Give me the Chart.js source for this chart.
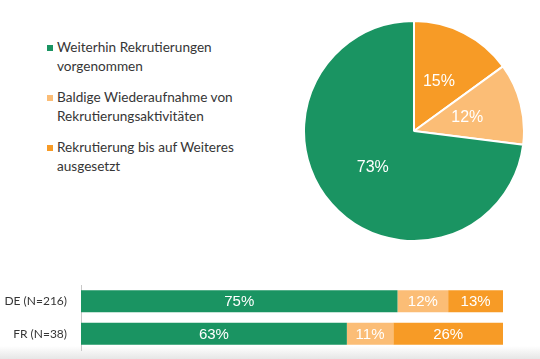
<!DOCTYPE html>
<html>
<head>
<meta charset="utf-8">
<script src="https://cdn.jsdelivr.net/npm/chart.js@4/dist/chart.umd.min.js"></script>
<style>
  html, body { margin: 0; padding: 0; }
  body {
    width: 540px; height: 359px; overflow: hidden; position: relative;
    background: linear-gradient(to bottom, #ffffff 0px, #ffffff 346px, #e6e6e6 359px);
    font-family: Lato, "Open Sans", sans-serif;
  }
  #pie { position: absolute; left: 303px; top: 20px; }
  #bar { position: absolute; left: 0px; top: 280px; }
  #legend { position: absolute; left: 46px; top: 38px; color: #363636; font-size: 13.6px; line-height: 19px; }
  .item { position: relative; padding-left: 11px; margin-bottom: 12px; }
  .sw { position: absolute; left: 1px; top: 7px; width: 6px; height: 6px; }
</style>
</head>
<body>
<div id="legend"></div>
<canvas id="pie" width="222" height="222"></canvas>
<canvas id="bar" width="540" height="75"></canvas>
<script>
// ---- data ----
const seriesNames = [
  ['Weiterhin Rekrutierungen', 'vorgenommen'],
  ['Baldige Wiederaufnahme von', 'Rekrutierungsaktivitäten'],
  ['Rekrutierung bis auf Weiteres', 'ausgesetzt']
];
const seriesColors = ['#1a9462', '#fbbd76', '#f79b26'];
const pieValues = [73, 12, 15];
const barCategories = ['DE (N=216)', 'FR (N=38)'];
const barContinued = [75, 63];
const barResume = [12, 11];
const barSuspended = [13, 26];

// ---- legend (HTML text) ----
const legendEl = document.getElementById('legend');
seriesNames.forEach((lines, i) => {
  const d = document.createElement('div');
  d.className = 'item';
  const sw = document.createElement('span');
  sw.className = 'sw';
  sw.style.background = seriesColors[i];
  d.appendChild(sw);
  lines.forEach((l, j) => {
    if (j) d.appendChild(document.createElement('br'));
    d.appendChild(document.createTextNode(l));
  });
  legendEl.appendChild(d);
});

// ---- label plugins ----
const pieLabelPlugin = {
  id: 'pieLabels',
  afterDatasetsDraw(chart) {
    const ctx = chart.ctx;
    const meta = chart.getDatasetMeta(0);
    ctx.save();
    ctx.fillStyle = '#ffffff';
    ctx.font = '16px "Liberation Sans", Arial, sans-serif';
    ctx.textAlign = 'center';
    ctx.textBaseline = 'middle';
    meta.data.forEach((arc, i) => {
      const p = arc.tooltipPosition();
      ctx.fillText(chart.data.datasets[0].data[i] + '%', p.x, p.y);
    });
    ctx.restore();
  }
};
const barLabelPlugin = {
  id: 'barLabels',
  afterDatasetsDraw(chart) {
    const ctx = chart.ctx;
    ctx.save();
    ctx.fillStyle = '#ffffff';
    ctx.font = '15px "Liberation Sans", Arial, sans-serif';
    ctx.textAlign = 'center';
    ctx.textBaseline = 'middle';
    chart.data.datasets.forEach((ds, di) => {
      chart.getDatasetMeta(di).data.forEach((bar, i) => {
        const p = bar.getProps(['x', 'y', 'base'], true);
        ctx.fillText(ds.data[i] + '%', (p.x + p.base) / 2, p.y + 1);
      });
    });
    ctx.restore();
  }
};

// ---- pie (drawn clockwise from top: suspended, resume, continued) ----
const order = [2, 1, 0];
new Chart(document.getElementById('pie'), {
  type: 'pie',
  data: {
    labels: order.map(i => seriesNames[i].join(' ')),
    datasets: [{
      data: order.map(i => pieValues[i]),
      backgroundColor: order.map(i => seriesColors[i]),
      borderColor: '#ffffff',
      borderWidth: 2
    }]
  },
  options: {
    responsive: false, animation: false,
    layout: { padding: 0 },
    plugins: { legend: { display: false }, tooltip: { enabled: false } }
  },
  plugins: [pieLabelPlugin]
});

// ---- stacked horizontal bars ----
new Chart(document.getElementById('bar'), {
  type: 'bar',
  data: {
    labels: barCategories,
    datasets: [
      { label: seriesNames[0].join(' '), data: barContinued, backgroundColor: seriesColors[0] },
      { label: seriesNames[1].join(' '), data: barResume, backgroundColor: seriesColors[1] },
      { label: seriesNames[2].join(' '), data: barSuspended, backgroundColor: seriesColors[2] }
    ]
  },
  options: {
    indexAxis: 'y',
    responsive: false, animation: false,
    layout: { padding: { top: 5, bottom: 5, left: 0, right: 37 } },
    datasets: { bar: { barPercentage: 0.68, categoryPercentage: 1.0, borderWidth: 0 } },
    scales: {
      x: { stacked: true, min: 0, max: 100, display: false },
      y: {
        stacked: true,
        grid: { display: false, drawTicks: false },
        border: { display: true, color: '#c8c8c8', width: 1 },
        ticks: { padding: 14, color: '#363636', font: { family: 'Lato, "Open Sans", sans-serif', size: 12 } },
        afterFit(scale) { scale.width = 81; scale.paddingTop = 0; scale.paddingBottom = 0; }
      }
    },
    plugins: { legend: { display: false }, tooltip: { enabled: false } }
  },
  plugins: [barLabelPlugin]
});
</script>
</body>
</html>
